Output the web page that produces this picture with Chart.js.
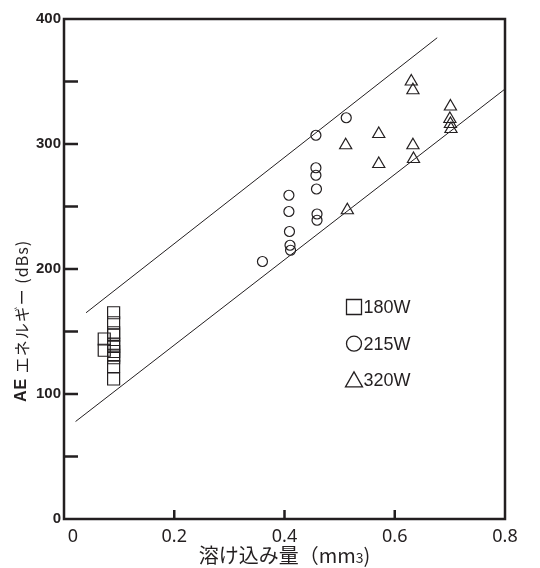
<!DOCTYPE html>
<html>
<head>
<meta charset="UTF-8">
<script src="https://cdn.jsdelivr.net/npm/chart.js@4.4.1/dist/chart.umd.min.js"></script>
<style>
html, body { margin: 0; padding: 0; background: #fff; }
#wrap { width: 540px; height: 568px; }
</style>
</head>
<body>
<div id="wrap"><canvas id="chart" width="540" height="568"></canvas></div>
<script>
// data (x: mm3, y: dBs)
var series180 = [
    [0.09, 165], [0.09, 157], [0.09, 149], [0.09, 147], [0.09, 140], [0.09, 138],
    [0.09, 134], [0.09, 131], [0.09, 129], [0.09, 122], [0.09, 112],
    [0.073, 144], [0.073, 135]
];
var series215 = [
    [0.36, 206], [0.408, 259], [0.408, 246], [0.409, 230], [0.41, 219], [0.411, 215],
    [0.457, 307], [0.457, 281], [0.457, 275], [0.458, 264], [0.459, 244], [0.459, 239],
    [0.512, 321]
];
var series320 = [
    [0.63, 350], [0.633, 343], [0.511, 299], [0.571, 308], [0.571, 284], [0.633, 299],
    [0.634, 288], [0.514, 247], [0.701, 330], [0.70, 320], [0.701, 316], [0.702, 312]
];
var upperBand = [[0.04, 165], [0.677, 385]];
var lowerBand = [[0.021, 78], [0.80, 344]];

var legendLabels = ['180W', '215W', '320W'];
var legendStyles = ['rect', 'circle', 'triangle'];
// the "0" sits a little right of the axis in the original
var xTickLabels = ['\u2002\u20020', '0.2', '0.4', '0.6', '0.8'];
var yTickLabels = ['0', '100', '200', '300', '400'];
var xTitle = ['溶け込み量（mm', '3', ')'];
var yTitle = ['AE', ' エネルギー (dBs)'];

var INK = '#231f20';

function toXY(arr) {
    return arr.map(function(p) { return { x: p[0], y: p[1] }; });
}

function markerSet(label, data, style, radius) {
    return {
        label: label,
        data: toXY(data),
        pointStyle: style,
        pointRadius: radius,
        pointHoverRadius: radius,
        pointBorderWidth: 1.2,
        pointBorderColor: INK,
        pointBackgroundColor: 'rgba(255,255,255,0)',
        showLine: false
    };
}

function bandSet(data) {
    return {
        data: toXY(data),
        showLine: true,
        borderColor: INK,
        borderWidth: 1,
        pointRadius: 0,
        fill: false
    };
}

// frame, inside ticks, axis titles and the in-plot legend
var decorations = {
    id: 'decorations',
    afterDraw: function(chart) {
        var ctx = chart.ctx;
        var a = chart.chartArea;
        var xs = chart.scales.x, ys = chart.scales.y;
        ctx.save();
        ctx.strokeStyle = INK;
        ctx.lineWidth = 2.5;
        ctx.strokeRect(a.left, a.top, a.right - a.left, a.bottom - a.top);

        ctx.beginPath();
        for (var v = 50; v < 400; v += 50) {
            var py = ys.getPixelForValue(v);
            ctx.moveTo(a.left, py);
            ctx.lineTo(a.left + 14, py);
        }
        [0.2, 0.4, 0.6].forEach(function(t) {
            var px = xs.getPixelForValue(t);
            ctx.moveTo(px, a.bottom);
            ctx.lineTo(px, a.bottom - 9);
        });
        ctx.stroke();

        // x title with small "3"
        ctx.fillStyle = INK;
        ctx.textBaseline = 'alphabetic';
        var bigFont = '20px "Noto Sans CJK JP", sans-serif';
        var smallFont = '14px "Noto Sans CJK JP", sans-serif';
        ctx.font = bigFont;
        var w0 = ctx.measureText(xTitle[0]).width;
        var w2 = ctx.measureText(xTitle[2]).width;
        ctx.font = smallFont;
        var w1 = ctx.measureText(xTitle[1]).width;
        var cx = (a.left + a.right) / 2;
        var tx = cx - (w0 + w1 + w2) / 2;
        var base = 563;
        ctx.font = bigFont; ctx.fillText(xTitle[0], tx, base);
        ctx.font = smallFont; ctx.fillText(xTitle[1], tx + w0, base);
        ctx.font = bigFont; ctx.fillText(xTitle[2], tx + w0 + w1, base);

        // y title, rotated
        ctx.save();
        ctx.translate(22, 321);
        ctx.rotate(-Math.PI / 2);
        if ('letterSpacing' in ctx) ctx.letterSpacing = '1px';
        var f0 = 'bold 16px "Liberation Sans", Arial, sans-serif';
        var f1 = '16px "Noto Sans CJK JP", sans-serif';
        ctx.font = f0; var yw0 = ctx.measureText(yTitle[0]).width;
        ctx.font = f1; var yw1 = ctx.measureText(yTitle[1]).width;
        var sx = -(yw0 + yw1) / 2;
        ctx.textBaseline = 'middle';
        ctx.font = f0; ctx.fillText(yTitle[0], sx, 0);
        ctx.font = f1; ctx.fillText(yTitle[1], sx + yw0, 0);
        ctx.restore();

        // legend
        var lx = a.left + 290, ly = a.top + 288, gap = 36.7;
        ctx.font = '18px "Liberation Sans", Arial, sans-serif';
        ctx.textBaseline = 'middle';
        ctx.lineWidth = 1.3;
        legendLabels.forEach(function(lab, i) {
            var y = ly + i * gap;
            ctx.beginPath();
            if (legendStyles[i] === 'rect') {
                ctx.rect(lx - 7.5, y - 7.5, 15, 15);
            } else if (legendStyles[i] === 'circle') {
                ctx.arc(lx, y, 7.5, 0, Math.PI * 2);
            } else {
                ctx.moveTo(lx, y - 8.5);
                ctx.lineTo(lx + 8.5, y + 6.5);
                ctx.lineTo(lx - 8.5, y + 6.5);
                ctx.closePath();
            }
            ctx.stroke();
            ctx.fillText(lab, lx + 9.5, y + 1);
        });
        ctx.restore();
    }
};

new Chart(document.getElementById('chart'), {
    type: 'scatter',
    data: {
        datasets: [
            markerSet('180W', series180, 'rect', 8.5),
            markerSet('215W', series215, 'circle', 5),
            markerSet('320W', series320, 'triangle', 7),
            bandSet(upperBand),
            bandSet(lowerBand)
        ]
    },
    options: {
        responsive: false,
        animation: false,
        events: [],
        layout: { padding: { top: 19, right: 35, bottom: 0, left: 0 } },
        plugins: {
            legend: { display: false },
            tooltip: { enabled: false },
            title: { display: false }
        },
        scales: {
            x: {
                type: 'linear',
                min: 0,
                max: 0.8,
                grid: { display: false, drawTicks: false },
                border: { display: false },
                ticks: {
                    stepSize: 0.2,
                    padding: 7,
                    color: INK,
                    font: { family: '"Noto Sans", "Liberation Sans", sans-serif', size: 18 },
                    callback: function(v) {
                        var i = Math.round(v / 0.2);
                        return Math.abs(v - i * 0.2) < 1e-6 ? xTickLabels[i] : '';
                    }
                },
                afterFit: function(scale) { scale.height = 49; }
            },
            y: {
                type: 'linear',
                min: 0,
                max: 400,
                grid: { display: false, drawTicks: false },
                border: { display: false },
                ticks: {
                    stepSize: 100,
                    padding: 3,
                    color: INK,
                    font: { family: '"Liberation Sans", Arial, sans-serif', size: 15, weight: 'bold' },
                    callback: function(v) {
                        return yTickLabels[Math.round(v / 100)];
                    }
                },
                afterFit: function(scale) { scale.width = 64; }
            }
        }
    },
    plugins: [decorations]
});
</script>
</body>
</html>
